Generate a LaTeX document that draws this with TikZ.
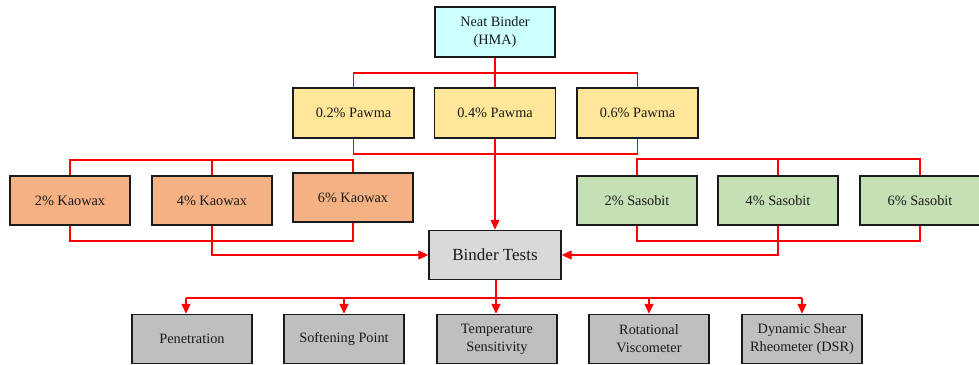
\documentclass[tikz,border=0pt]{standalone}
\usepackage{fontspec}
\setmainfont{Liberation Serif}
\usetikzlibrary{arrows.meta}
\definecolor{cNeat}{HTML}{CCFFFF}
\definecolor{cPawma}{HTML}{FFE699}
\definecolor{cKao}{HTML}{F4B183}
\definecolor{cSaso}{HTML}{C5E0B4}
\definecolor{cBT}{HTML}{D9D9D9}
\definecolor{cTest}{HTML}{BFBFBF}
\definecolor{cBorder}{HTML}{1A1A1A}
\definecolor{cText}{HTML}{1A1A1A}
\definecolor{cLink}{HTML}{FF0000}
\begin{document}
\begin{tikzpicture}[x=1pt,y=-1pt,
  box/.style={draw=cBorder,line width=1.4pt,minimum width=120pt,minimum height=49pt,
    inner sep=0pt,align=center,text=cText,font=\fontsize{14.3}{18}\selectfont},
  link/.style={draw=cLink,line width=1.3pt},
  arr/.style={link,-{Triangle[length=10pt,width=9pt]}}]
\useasboundingbox (0,0) rectangle (979,364);
% nodes
\node[box,fill=cNeat,minimum height=50pt] (neat) at (495,32) {Neat Binder\\(HMA)};
\node[box,fill=cPawma,minimum width=121pt,minimum height=50pt] (p2) at (353.5,113) {0.2\% Pawma};
\node[box,fill=cPawma,minimum width=121pt,minimum height=50pt] (p4) at (495,113) {0.4\% Pawma};
\node[box,fill=cPawma,minimum width=121pt,minimum height=50pt] (p6) at (637.5,113) {0.6\% Pawma};
\node[box,fill=cKao] (k2) at (70,200.5) {2\% Kaowax};
\node[box,fill=cKao] (k4) at (212,200.5) {4\% Kaowax};
\node[box,fill=cKao] (k6) at (353,197.5) {6\% Kaowax};
\node[box,fill=cSaso] (s2) at (637,200.5) {2\% Sasobit};
\node[box,fill=cSaso] (s4) at (778,200.5) {4\% Sasobit};
\node[box,fill=cSaso] (s6) at (920,200.5) {6\% Sasobit};
\node[box,fill=cBT,minimum width=132pt,font=\fontsize{17}{20}\selectfont] (bt) at (495,255) {Binder Tests};
\node[box,fill=cTest] (pen) at (192,339) {Penetration};
\node[box,fill=cTest] (soft) at (344,339) {Softening Point};
\node[box,fill=cTest] (temp) at (497,339) {Temperature\\Sensitivity};
\node[box,fill=cTest] (rot) at (649,339) {Rotational\\Viscometer};
\node[box,fill=cTest] (dsr) at (802,339) {Dynamic Shear\\Rheometer (DSR)};
% bus coordinates
\coordinate (busA) at (495,73);
\coordinate (busB) at (495,154);
\coordinate (busK1) at (212,160);
\coordinate (busK2) at (212,241);
\coordinate (busS1) at (778,159);
\coordinate (busS2) at (778,241);
\coordinate (busL) at (186,298);
\coordinate (busR) at (802,298);
\coordinate (busM) at (496,298);
% neat -> pawma
\draw[link] (neat.south) -- (p4.north);
\draw[link] (p2.north) |- (busA) -| (p6.north);
% pawma -> binder tests
\draw[link] (p2.south) |- (busB) -| (p6.south);
\draw[arr] (p4.south) -- (bt.north);
% kaowax
\draw[link] (k2.north) |- (busK1) -| (k6.north);
\draw[link] (k4.north) -- (k4.north |- busK1);
\draw[link] (k2.south) |- (busK2) -| (k6.south);
\draw[arr] (k4.south) |- (bt.west);
% sasobit
\draw[link] (s2.north) |- (busS1) -| (s6.north);
\draw[link] (s4.north) -- (s4.north |- busS1);
\draw[link] (s2.south) |- (busS2) -| (s6.south);
\draw[arr] (s4.south) |- (bt.east);
% binder tests -> tests
\draw[link] (busL) -- (busR);
\draw[link] (bt.south -| busM) -- (busM);
\draw[arr] (busM) -- (busM |- temp.north);
\draw[arr] (busL) -- (busL |- pen.north);
\draw[arr] (soft.north |- busL) -- (soft.north);
\draw[arr] (rot.north |- busL) -- (rot.north);
\draw[arr] (busR) -- (dsr.north);
\end{tikzpicture}
\end{document}
